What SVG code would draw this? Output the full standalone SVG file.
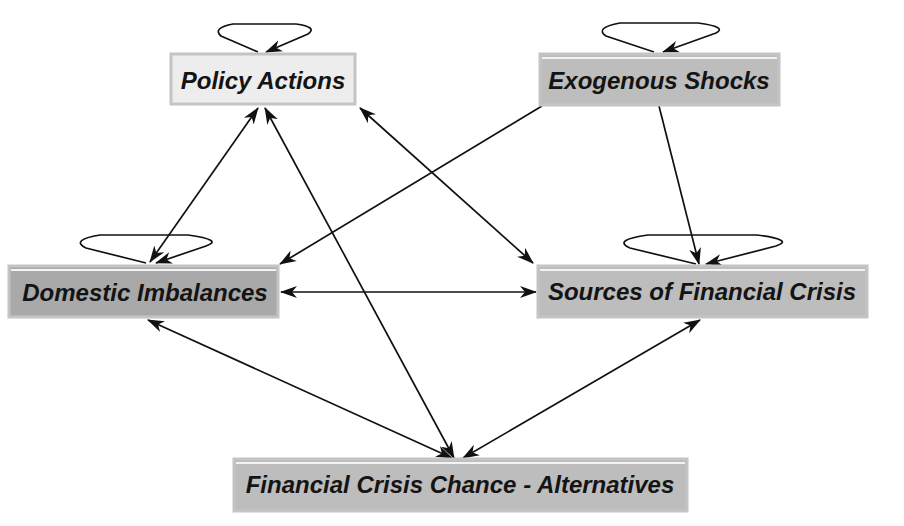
<svg xmlns="http://www.w3.org/2000/svg" width="904" height="526" viewBox="0 0 904 526">
<style>
.box{stroke:#c4c4c4;stroke-width:3}
.gray{fill:#bdbdbd}
.dark{fill:#a9a9a9}
.light{fill:#ededed}
.hl{stroke:#f4f4f4;stroke-width:2}
.lbl{font-family:"Liberation Sans",Arial,sans-serif;font-weight:bold;font-style:italic;font-size:24px;fill:#141414;text-anchor:middle}
.edge{fill:none;stroke:#111;stroke-width:1.7}
</style>
<defs>
<marker id="ah" markerUnits="userSpaceOnUse" markerWidth="18" markerHeight="14" refX="16" refY="6" orient="auto-start-reverse" viewBox="0 0 18 12">
<path d="M0,0 L17,6 L0,12 L5,6 z" fill="#111"/>
</marker>
</defs>
<rect width="904" height="526" fill="#fff"/>
<g id="connectors">
<line class="edge" x1="150" y1="262" x2="258" y2="108" marker-start="url(#ah)" marker-end="url(#ah)"/>
<line class="edge" x1="265" y1="108" x2="454" y2="458" marker-start="url(#ah)" marker-end="url(#ah)"/>
<line class="edge" x1="360" y1="108" x2="533" y2="263" marker-start="url(#ah)" marker-end="url(#ah)"/>
<line class="edge" x1="542" y1="106" x2="280" y2="264" marker-end="url(#ah)"/>
<line class="edge" x1="659" y1="106" x2="699" y2="264" marker-end="url(#ah)"/>
<line class="edge" x1="281" y1="292" x2="536" y2="292" marker-start="url(#ah)" marker-end="url(#ah)"/>
<line class="edge" x1="148" y1="320" x2="452" y2="458" marker-start="url(#ah)" marker-end="url(#ah)"/>
<line class="edge" x1="700" y1="320" x2="463" y2="458" marker-start="url(#ah)" marker-end="url(#ah)"/>
<path class="edge" d="M258,52 L221,36 Q212,28 233,24 L296,24 Q318,27 308,34 L266,52" marker-end="url(#ah)"/>
<path class="edge" d="M654,52 L606,36 Q594,28 620,23 L698,23 Q728,27 716,33 L663,52" marker-end="url(#ah)"/>
<path class="edge" d="M146,263 L86,248 Q70,240 100,235 L188,235 Q224,240 206,246 L156,263" marker-end="url(#ah)"/>
<path class="edge" d="M696,264 L630,248 Q612,240 648,235 L757,235 Q795,240 776,246 L706,264" marker-end="url(#ah)"/>
</g>
<g id="policy-actions">
<rect class="box light" x="171" y="54" width="184" height="50"/>
<text class="lbl" x="263" y="89">Policy Actions</text>
</g>
<g id="exogenous-shocks">
<rect class="box gray" x="540" y="54" width="239" height="51"/>
<line class="hl" x1="542" y1="58" x2="777" y2="58"/>
<text class="lbl" x="659" y="89">Exogenous Shocks</text>
</g>
<g id="domestic-imbalances">
<rect class="box dark" x="9" y="266" width="269" height="51"/>
<line class="hl" x1="11" y1="270" x2="276" y2="270"/>
<text class="lbl" x="145" y="301">Domestic Imbalances</text>
</g>
<g id="sources-of-financial-crisis">
<rect class="box gray" x="538" y="266" width="329" height="51"/>
<line class="hl" x1="540" y1="270" x2="865" y2="270"/>
<text class="lbl" x="702" y="300">Sources of Financial Crisis</text>
</g>
<g id="financial-crisis-chance">
<rect class="box gray" x="234" y="459" width="453" height="52"/>
<line class="hl" x1="236" y1="463" x2="685" y2="463"/>
<text class="lbl" x="460" y="493">Financial Crisis Chance - Alternatives</text>
</g>
</svg>
